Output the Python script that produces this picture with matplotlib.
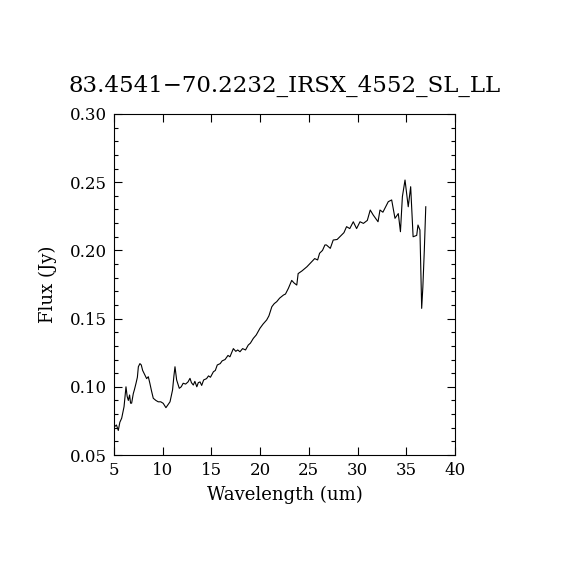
import matplotlib
matplotlib.use("Agg")
import matplotlib.pyplot as plt
from matplotlib.ticker import MultipleLocator, FormatStrFormatter

title = "83.4541\u221270.2232_IRSX_4552_SL_LL"
xlabel = "Wavelength (um)"
ylabel = "Flux (Jy)"

wave = [5.0, 5.03, 5.1, 5.25, 5.44, 5.6, 5.79, 6.03, 6.15, 6.23, 6.35, 6.47, 6.6, 6.7,
        6.81, 6.98, 7.1, 7.26, 7.4, 7.5, 7.66, 7.8, 7.94, 8.17, 8.35, 8.52, 8.68, 8.85,
        9.03, 9.3, 9.54, 9.8, 10.05, 10.33, 10.55, 10.75, 11.01, 11.15, 11.26, 11.43,
        11.7, 11.9, 12.1, 12.35, 12.6, 12.8, 12.95, 13.14, 13.3, 13.5, 13.65, 13.83,
        14.0, 14.2, 14.5, 14.7, 14.9, 15.2, 15.4, 15.6, 15.9, 16.1, 16.4, 16.7, 16.9,
        17.25, 17.5, 17.7, 17.93, 18.2, 18.5, 18.78, 19.0, 19.3, 19.6, 19.98, 20.3,
        20.67, 20.9, 21.2, 21.45, 21.7, 22.0, 22.4, 22.6, 22.9, 23.24, 23.5, 23.76,
        23.9, 24.3, 24.8, 25.2, 25.6, 25.9, 26.1, 26.4, 26.65, 26.8, 27.2, 27.5, 27.9,
        28.36, 28.6, 28.87, 29.2, 29.56, 29.9, 30.25, 30.6, 31.0, 31.3, 31.6, 32.1,
        32.3, 32.6, 33.15, 33.5, 33.84, 34.18, 34.4, 34.6, 34.87, 35.2, 35.45, 35.7,
        36.07, 36.2, 36.4, 36.58, 36.7, 36.85, 37.0]

flux = [0.094, 0.072, 0.071, 0.072, 0.068, 0.074, 0.077, 0.0854, 0.094, 0.100, 0.093,
        0.090, 0.094, 0.088, 0.088, 0.095, 0.098, 0.1026, 0.107, 0.1147, 0.117, 0.116,
        0.112, 0.1087, 0.106, 0.1074, 0.1026, 0.097, 0.0916, 0.090, 0.089, 0.089,
        0.0879, 0.0847, 0.087, 0.089, 0.0977, 0.108, 0.1147, 0.105, 0.0989, 0.100,
        0.1026, 0.102, 0.1036, 0.1062, 0.103, 0.1013, 0.104, 0.100, 0.103, 0.1036,
        0.101, 0.105, 0.106, 0.108, 0.107, 0.111, 0.112, 0.116, 0.117, 0.119, 0.120,
        0.123, 0.122, 0.128, 0.126, 0.127, 0.1257, 0.128, 0.127, 0.1306, 0.132,
        0.1355, 0.138, 0.1429, 0.146, 0.149, 0.152, 0.1587, 0.161, 0.1624, 0.165,
        0.1673, 0.168, 0.1722, 0.178, 0.176, 0.1746, 0.183, 0.185, 0.188, 0.191,
        0.194, 0.193, 0.1979, 0.200, 0.204, 0.204, 0.2015, 0.2076, 0.208, 0.2113,
        0.213, 0.2174, 0.216, 0.221, 0.216, 0.221, 0.2198, 0.222, 0.2296, 0.226,
        0.221, 0.2296, 0.228, 0.2357, 0.237, 0.2235, 0.227, 0.2137, 0.2394, 0.2516,
        0.232, 0.2467, 0.210, 0.211, 0.2186, 0.215, 0.1575, 0.173, 0.200, 0.232]

xlim = (5, 40)
ylim = (0.05, 0.30)

plt.rcParams['font.family'] = ['DejaVu Serif']
fig = plt.figure(figsize=(5.7, 5.7), dpi=100)
ax = fig.add_axes([114/570, 115/570, 341/570, 341/570])
ax.plot(wave, flux, color='black', linewidth=0.8)
ax.set_xlim(*xlim)
ax.set_ylim(*ylim)
ax.xaxis.set_major_locator(MultipleLocator(5))
ax.yaxis.set_major_locator(MultipleLocator(0.05))
ax.yaxis.set_minor_locator(MultipleLocator(0.01))
ax.yaxis.set_major_formatter(FormatStrFormatter('%.2f'))
ax.tick_params(which='both', direction='in', top=True, right=True, width=0.8, labelsize=12)
ax.tick_params(which='major', length=6, pad=5)
ax.tick_params(which='minor', length=3)
for s in ax.spines.values():
    s.set_linewidth(0.8)
ax.set_title(title, fontsize=16.5, pad=16)
ax.set_xlabel(xlabel, fontsize=13, labelpad=5)
ax.set_ylabel(ylabel, fontsize=13, labelpad=9)
fig.savefig("out.png", dpi=100, facecolor='white')
